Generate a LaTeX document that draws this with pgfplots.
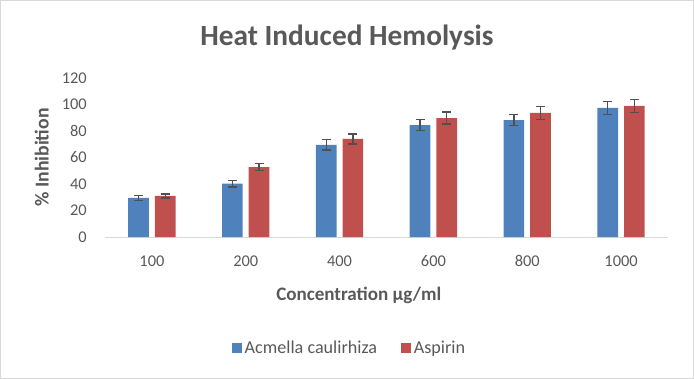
\documentclass[border=0pt]{standalone}
\usepackage{pgfplots}
\pgfplotsset{compat=1.18}
\usepackage{fontspec}
\setmainfont{Carlito}
\definecolor{txtgray}{HTML}{595959}
\definecolor{errgray}{HTML}{505050}
\definecolor{axgray}{HTML}{D9D9D9}
\definecolor{bblue}{HTML}{4F81BD}
\definecolor{bred}{HTML}{C0504D}
\begin{document}
\begin{tikzpicture}
\useasboundingbox (0,0) rectangle (520.5pt,284.25pt);
\draw[color=axgray, line width=0.75pt] (0.375pt,0.375pt) rectangle (520.125pt,283.875pt);
\begin{axis}[
  at={(78.75pt,106.5pt)}, anchor=south west,
  width=422.25pt, height=119.25pt, scale only axis,
  xmin=-0.5, xmax=5.5, ymin=0, ymax=120,
  enlargelimits=false,
  /pgf/number format/assume math mode=true,
  axis x line*=bottom, axis y line*=left,
  x axis line style={-, draw=axgray, line width=0.75pt},
  y axis line style={draw=none},
  major tick length=0pt,
  xtick={0,1,2,3,4,5},
  xticklabels={100,200,400,600,800,1000},
  ytick={0,20,40,60,80,100,120},
  tick label style={font=\fontsize{12.3}{14}\selectfont, text=txtgray},
  xticklabel style={anchor=center, yshift=-18pt},
  yticklabel style={anchor=east, inner sep=0pt, xshift=-13.5pt},
  title={Heat Induced Hemolysis},
  title style={at={(axis description cs:0.4298,1.2597)}, anchor=center, yshift=-6.75pt, font=\bfseries\fontsize{22}{24}\selectfont, text=txtgray},
  xlabel={Concentration µg/ml},
  xlabel style={at={(axis description cs:0.4508,-0.3648)}, anchor=center, font=\bfseries\fontsize{14.3}{16}\selectfont, text=txtgray},
  ylabel={\% Inhibition},
  ylabel style={at={(axis description cs:-0.1124,0.5)}, anchor=center, rotate=0, font=\bfseries\fontsize{14.8}{16}\selectfont, text=txtgray},
  ybar=4.5pt, bar width=15.5pt,
  legend style={at={(axis description cs:0.435,-0.698)}, anchor=center, draw=none, fill=none,
    legend columns=2, font=\fontsize{13.6}{15}\selectfont, text=txtgray,
    /tikz/every even column/.append style={column sep=16pt}},
  legend image code/.code={\fill[#1] (0pt,-3.75pt) rectangle (7.5pt,3.75pt);},
  error bars/error bar style={line width=1.1pt, color=errgray},
  error bars/error mark options={rotate=90, mark size=3.4pt, line width=1.1pt, color=errgray},
]
\addplot[fill=bblue, draw=none, error bars/.cd, y dir=both, y explicit]
  coordinates {(0,29.5) +- (0,2.0) (1,40.2) +- (0,2.4) (2,69.5) +- (0,3.9) (3,84.5) +- (0,4.3) (4,88.3) +- (0,4.3) (5,97.4) +- (0,5.0)};
\addlegendentry{Acmella caulirhiza}
\addplot[fill=bred, draw=none, error bars/.cd, y dir=both, y explicit]
  coordinates {(0,31.0) +- (0,1.6) (1,52.8) +- (0,2.6) (2,74.0) +- (0,3.9) (3,89.8) +- (0,4.6) (4,93.6) +- (0,5.0) (5,98.9) +- (0,5.0)};
\addlegendentry{Aspirin}
\end{axis}
\end{tikzpicture}
\end{document}
